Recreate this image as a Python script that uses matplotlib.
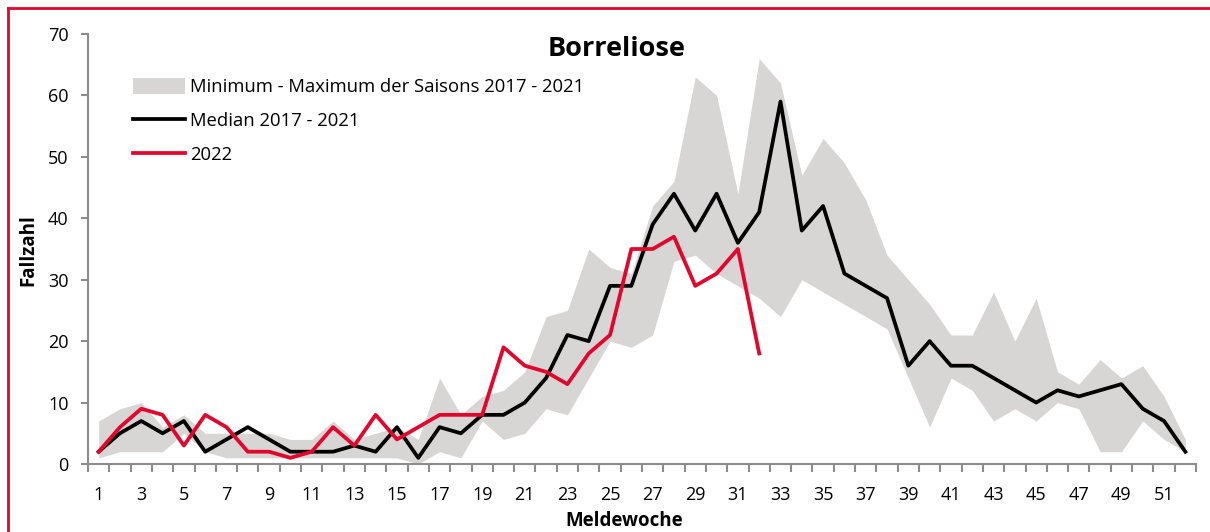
import numpy as np
import matplotlib.pyplot as plt
from matplotlib.patches import Patch
from matplotlib.lines import Line2D

# Meldewoche 1..52
weeks = list(range(1, 53))

# Min/Max der Saisons 2017 - 2021
band_min = [1, 2, 2, 2, 5, 2, 1, 1, 1, 1, 1, 1, 1, 1, 1, 0, 2, 1, 7, 4,
            5, 9, 8, 14, 20, 19, 21, 33, 34, 31, 29, 27, 24, 30, 28, 26, 24, 22, 14, 6,
            14, 12, 7, 9, 7, 10, 9, 2, 2, 7, 4, 2]
band_max = [7, 9, 10, 6, 8, 5, 5, 5, 5, 4, 4, 7, 4, 5, 6, 4, 14, 8, 11, 12,
            15, 24, 25, 35, 32, 31, 42, 46, 63, 60, 44, 66, 62, 47, 53, 49, 43, 34, 30, 26,
            21, 21, 28, 20, 27, 15, 13, 17, 14, 16, 11, 4]

# Median 2017 - 2021
median = [2, 5, 7, 5, 7, 2, 4, 6, 4, 2, 2, 2, 3, 2, 6, 1, 6, 5, 8, 8,
          10, 14, 21, 20, 29, 29, 39, 44, 38, 44, 36, 41, 59, 38, 42, 31, 29, 27, 16, 20,
          16, 16, 14, 12, 10, 12, 11, 12, 13, 9, 7, 2]

# 2022 (bis Woche 32)
cases_2022 = [2, 6, 9, 8, 3, 8, 6, 2, 2, 1, 2, 6, 3, 8, 4, 6, 8, 8, 8, 19,
              16, 15, 13, 18, 21, 35, 35, 37, 29, 31, 35, 18]

title = "Borreliose"
label_band = "Minimum - Maximum der Saisons 2017 - 2021"
label_median = "Median 2017 - 2021"
label_2022 = "2022"

RED = "#e2062c"
BAND = "#d8d5d5"
AXIS = "#8c8c8c"

plt.rcParams['font.family'] = ['Open Sans', 'DejaVu Sans']

fig = plt.figure(figsize=(12.1, 5.32), dpi=100)
ax = fig.add_axes([88 / 1210, 1 - 464 / 532, 1108 / 1210, 430 / 532])

ax.fill_between(weeks, band_min, band_max, color=BAND, linewidth=0, zorder=1)
ax.plot(weeks, median, color="black", linewidth=2.7, zorder=3)
ax.plot(range(1, len(cases_2022) + 1), cases_2022, color=RED, linewidth=2.7, zorder=4)

ax.set_xlim(0.5, 52.5)
ax.set_ylim(0, 70)

# axes styling
for side in ["top", "right"]:
    ax.spines[side].set_visible(False)
for side in ["left", "bottom"]:
    ax.spines[side].set_color(AXIS)
    ax.spines[side].set_linewidth(1.5)

ax.set_yticks(range(0, 71, 10))
ax.tick_params(axis="y", length=5, width=1.5, color=AXIS, labelsize=13, pad=9)

ax.set_xticks(weeks[::2])
ax.set_xticklabels([str(w) for w in weeks[::2]])
ax.set_xticks(np.arange(0.5, 53, 1), minor=True)
ax.tick_params(axis="x", which="major", length=0, labelsize=13, pad=16)
ax.tick_params(axis="x", which="minor", length=6, width=1.5, color=AXIS)

fig.text(624 / 1210, 1 - 521 / 532, "Meldewoche", ha="center", va="center",
         fontsize=13.5, fontweight="bold")
fig.text(28 / 1210, 1 - 250 / 532, "Fallzahl", ha="center", va="center",
         rotation=90, fontsize=13.5, fontweight="bold")
fig.text(617 / 1210, 1 - 49 / 532, title, ha="center", va="center",
         fontsize=19.5, fontweight="bold")

handles = [
    Patch(facecolor=BAND, edgecolor="none"),
    Line2D([0], [0], color="black", linewidth=2.7),
    Line2D([0], [0], color=RED, linewidth=2.7),
]
leg = ax.legend(handles, [label_band, label_median, label_2022],
                loc="upper left", bbox_to_anchor=(124 / 1210, 1 - 69 / 532),
                bbox_transform=fig.transFigure, frameon=False, fontsize=13.3,
                handlelength=2.8, handleheight=0.9, handletextpad=0.3,
                labelspacing=0.85, borderpad=0)

# red frame around the chart
fig.add_artist(Line2D([8 / 1210, 8 / 1210], [0, 1 - 8 / 532], color=RED,
                      linewidth=2, transform=fig.transFigure))
fig.add_artist(Line2D([8 / 1210, 1], [1 - 8 / 532, 1 - 8 / 532], color=RED,
                      linewidth=2, transform=fig.transFigure))

fig.savefig("out.png", dpi=100)
